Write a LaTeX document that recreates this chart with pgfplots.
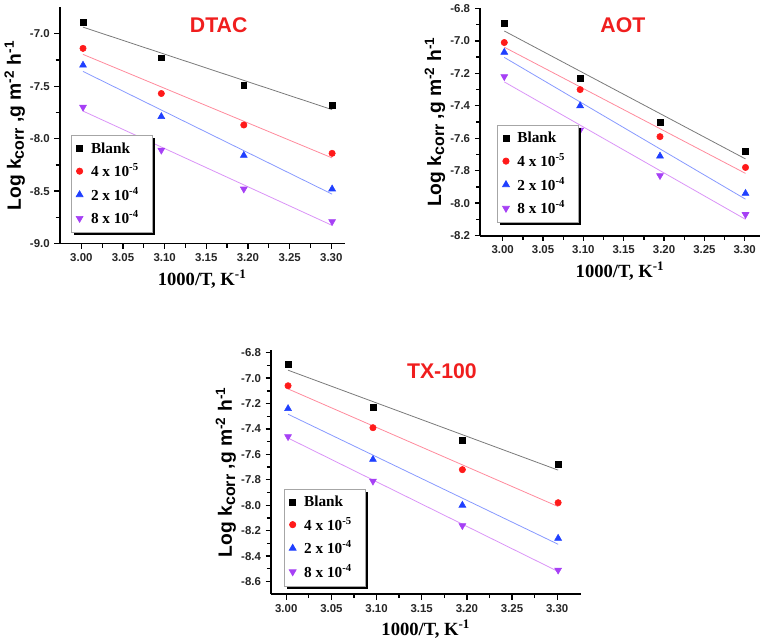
\documentclass[border=0pt]{standalone}
\usepackage{fontspec}
\setmainfont{Liberation Serif}
\newfontfamily\arial{Liberation Sans}
\usepackage{pgfplots}
\usepackage{pgfplotstable}
\pgfplotsset{compat=1.18}
\usetikzlibrary{shadows}

\definecolor{cblk}{HTML}{000000}
\definecolor{cred}{HTML}{FF1A1A}
\definecolor{cblu}{HTML}{1F3FFF}
\definecolor{cvio}{HTML}{A640F5}
\definecolor{lblk}{HTML}{7A7A7A}
\definecolor{lred}{HTML}{FF8A9C}
\definecolor{lblu}{HTML}{8799FF}
\definecolor{lvio}{HTML}{DA93F7}
\definecolor{ttl}{HTML}{F01E1E}

% DTAC
\pgfplotstableread{
x     a      b      c      d
3.002 -6.89  -7.14  -7.30  -7.70
3.096 -7.23  -7.57  -7.79  -8.11
3.195 -7.49  -7.87  -8.16  -8.48
3.301 -7.68  -8.14  -8.48  -8.79
}\dtac
% AOT
\pgfplotstableread{
x     a      b      c      d
3.002 -6.89  -7.01  -7.07  -7.22
3.096 -7.23  -7.30  -7.40  -7.55
3.195 -7.50  -7.59  -7.71  -7.83
3.301 -7.68  -7.78  -7.94  -8.07
}\aot
% TX-100
\pgfplotstableread{
x     a      b      c      d
3.002 -6.89  -7.06  -7.24  -7.46
3.096 -7.23  -7.39  -7.64  -7.81
3.195 -7.49  -7.72  -8.00  -8.16
3.301 -7.68  -7.98  -8.26  -8.51
}\txc

\newcommand{\ylab}{\arial\bfseries\fontsize{14.5}{16}\selectfont Log k\raisebox{-0.3ex}{\fontsize{12}{13}\selectfont corr} ,g m\textsuperscript{-2} h\textsuperscript{-1}}

\pgfplotsset{
  panel/.style={
    scale only axis,
    axis x line*=bottom, axis y line*=left,
    axis line style={line width=1.4pt},
    tick align=outside,
    major tick length=4pt, minor tick length=3pt,
    every tick/.style={black, line width=1pt},
    minor x tick num=1, minor y tick num=1,
    xmin=2.974, xmax=3.316,
    xtick={3.00,3.05,...,3.31},
    x tick label style={/pgf/number format/.cd, fixed, fixed zerofill, precision=2},
    tick label style={font=\arial\bfseries\fontsize{8.6}{10}\selectfont, text=black!85},
    /pgf/number format/assume math mode=true,
    xlabel={\bfseries\fontsize{14}{16}\selectfont 1000/T, K\textsuperscript{-1}},
    ylabel={\ylab},
    xlabel style={yshift=1pt},
    ylabel style={yshift=-3pt},
    legend cell align=left,
    legend style={anchor=south west, draw=gray!70, line width=0.5pt,
      font=\bfseries\fontsize{11.5}{13}\selectfont,
      row sep=2.6pt, inner xsep=4pt, inner ysep=3pt,
      nodes={inner xsep=6pt},
      drop shadow={shadow xshift=2pt, shadow yshift=-2pt, fill=black, opacity=1}},
    clip=false,
  },
  pa/.style={only marks, mark=square*, mark size=2.2pt, color=cblk},
  pb/.style={only marks, mark=*, mark size=2.4pt, color=cred},
  pc/.style={only marks, mark=triangle*, mark size=3pt, color=cblu},
  pd/.style={only marks, mark=triangle*, mark size=3pt, mark options={rotate=180}, color=cvio},
  fit/.style={no marks, line width=0.6pt, forget plot},
}

\begin{document}
\begin{tikzpicture}[x=1pt,y=1pt]
\path (0,0) rectangle (575.25,480);

% ---- DTAC ----
\begin{axis}[panel, at={(42.75pt,299.25pt)}, anchor=south west,
  width=214.5pt, height=177.75pt,
  ymin=-9.0, ymax=-6.75, ytick={-9.0,-8.5,...,-6.9},
  y tick label style={/pgf/number format/.cd, fixed, fixed zerofill, precision=1},
  legend style={at={(rel axis cs:0.038,0.046)}}]
\addplot[pa] table[x=x,y=a] {\dtac}; \addlegendentry{Blank}
\addplot[pb] table[x=x,y=b] {\dtac}; \addlegendentry{4 x 10\textsuperscript{-5}}
\addplot[pc] table[x=x,y=c] {\dtac}; \addlegendentry{2 x 10\textsuperscript{-4}}
\addplot[pd] table[x=x,y=d] {\dtac}; \addlegendentry{8 x 10\textsuperscript{-4}}
\addplot[fit, lblk] table[x=x,y={create col/linear regression={y=a}}] {\dtac};
\addplot[fit, lred] table[x=x,y={create col/linear regression={y=b}}] {\dtac};
\addplot[fit, lblu] table[x=x,y={create col/linear regression={y=c}}] {\dtac};
\addplot[fit, lvio] table[x=x,y={create col/linear regression={y=d}}] {\dtac};
\node[text=ttl, font=\arial\bfseries\fontsize{16}{18}\selectfont] at (rel axis cs:0.558,0.925) {DTAC};
\end{axis}

% ---- AOT ----
\begin{axis}[panel, at={(359.25pt,305.25pt)}, anchor=south west,
  width=210.75pt, height=171pt,
  xmin=2.972, xmax=3.319,
  ymin=-8.2, ymax=-6.8, ytick={-8.2,-8.0,...,-6.75},
  y tick label style={/pgf/number format/.cd, fixed, fixed zerofill, precision=1},
  legend style={at={(rel axis cs:0.06,0.057)}}]
\addplot[pa] table[x=x,y=a] {\aot}; \addlegendentry{Blank}
\addplot[pb] table[x=x,y=b] {\aot}; \addlegendentry{4 x 10\textsuperscript{-5}}
\addplot[pc] table[x=x,y=c] {\aot}; \addlegendentry{2 x 10\textsuperscript{-4}}
\addplot[pd] table[x=x,y=d] {\aot}; \addlegendentry{8 x 10\textsuperscript{-4}}
\addplot[fit, lblk] table[x=x,y={create col/linear regression={y=a}}] {\aot};
\addplot[fit, lred] table[x=x,y={create col/linear regression={y=b}}] {\aot};
\addplot[fit, lblu] table[x=x,y={create col/linear regression={y=c}}] {\aot};
\addplot[fit, lvio] table[x=x,y={create col/linear regression={y=d}}] {\aot};
\node[text=ttl, font=\arial\bfseries\fontsize{16}{18}\selectfont] at (rel axis cs:0.51,0.927) {AOT};
\end{axis}

% ---- TX-100 ----
\begin{axis}[panel, at={(201.75pt,35.25pt)}, anchor=south west,
  width=233.25pt, height=183.75pt,
  xmin=2.983, xmax=3.326,
  ymin=-8.7, ymax=-6.78, ytick={-8.6,-8.4,...,-6.75},
  y tick label style={/pgf/number format/.cd, fixed, fixed zerofill, precision=1},
  legend style={at={(rel axis cs:0.041,0.033)}}]
\addplot[pa] table[x=x,y=a] {\txc}; \addlegendentry{Blank}
\addplot[pb] table[x=x,y=b] {\txc}; \addlegendentry{4 x 10\textsuperscript{-5}}
\addplot[pc] table[x=x,y=c] {\txc}; \addlegendentry{2 x 10\textsuperscript{-4}}
\addplot[pd] table[x=x,y=d] {\txc}; \addlegendentry{8 x 10\textsuperscript{-4}}
\addplot[fit, lblk] table[x=x,y={create col/linear regression={y=a}}] {\txc};
\addplot[fit, lred] table[x=x,y={create col/linear regression={y=b}}] {\txc};
\addplot[fit, lblu] table[x=x,y={create col/linear regression={y=c}}] {\txc};
\addplot[fit, lvio] table[x=x,y={create col/linear regression={y=d}}] {\txc};
\node[text=ttl, font=\arial\bfseries\fontsize{16}{18}\selectfont] at (rel axis cs:0.552,0.913) {TX-100};
\end{axis}
\end{tikzpicture}
\end{document}
